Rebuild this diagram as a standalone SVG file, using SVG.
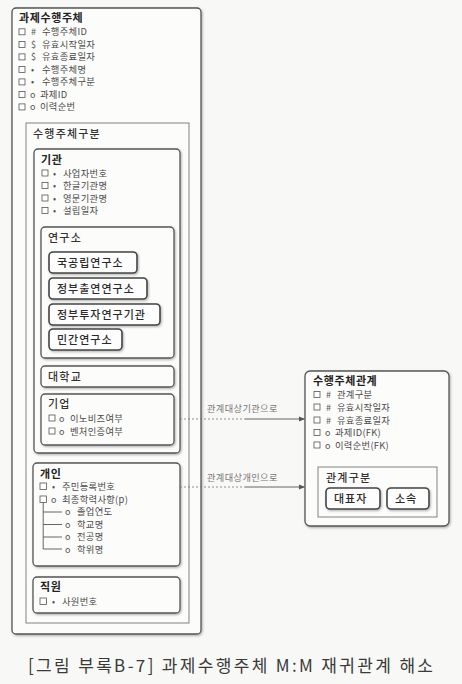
<svg xmlns="http://www.w3.org/2000/svg" width="462" height="684" viewBox="0 0 462 684">
<style>
text{font-family:"Noto Sans CJK KR","Noto Sans",sans-serif;fill:#3a3a3a}
.t{font-size:11px;font-weight:bold;fill:#222;letter-spacing:0.6px}
.t2{font-size:11px;font-weight:500;fill:#333;letter-spacing:1.2px}
.a{font-size:9.3px;fill:#4a4a4a;letter-spacing:0.3px}
.s{font-size:9px;fill:#555}
.lb{font-size:9.2px;fill:#777;letter-spacing:0.4px}
.btn{font-size:11px;font-weight:500;fill:#2a2a2a;letter-spacing:1px}
.box{fill:#fcfcfb;stroke:#555;stroke-width:1.3}
.tbox{fill:#fcfcfb;stroke:#777;stroke-width:0.9}
.pill{fill:#fdfdfd;stroke:#444;stroke-width:1.6}
.cb{fill:#fff;stroke:#555;stroke-width:0.8}
.ln{stroke:#555;stroke-width:0.9;fill:none}
.dash{stroke:#777;stroke-width:0.8;stroke-dasharray:2 2;fill:none}
</style>
<defs>
<filter id="sh" x="-10%" y="-10%" width="130%" height="130%">
<feDropShadow dx="1" dy="1.2" stdDeviation="0.9" flood-color="#000" flood-opacity="0.3"/>
</filter>
<marker id="ar" markerWidth="6" markerHeight="6" refX="5.5" refY="3" orient="auto" markerUnits="userSpaceOnUse">
<path d="M0,0.5 L6,3 L0,5.5 Z" fill="#555"/>
</marker>
</defs>
<rect x="0" y="0" width="462" height="684" fill="#f8f8f6"/>

<g id="entity-main">
<rect class="box" x="12" y="8" width="189" height="626" rx="4" filter="url(#sh)"/>
<text class="t" x="19" y="22">과제수행주체</text>
<rect class="cb" x="19" y="28.8" width="6" height="6"/><text class="s" x="31" y="35.3">#</text><text class="a" x="42" y="35.3">수행주체ID</text>
<rect class="cb" x="19" y="41.4" width="6" height="6"/><text class="s" x="31" y="47.9">$</text><text class="a" x="42" y="47.9">유효시작일자</text>
<rect class="cb" x="19" y="53.9" width="6" height="6"/><text class="s" x="31" y="60.4">$</text><text class="a" x="42" y="60.4">유효종료일자</text>
<rect class="cb" x="19" y="66.4" width="6" height="6"/><text class="s" x="31" y="72.9">•</text><text class="a" x="42" y="72.9">수행주체명</text>
<rect class="cb" x="19" y="78.9" width="6" height="6"/><text class="s" x="31" y="85.4">•</text><text class="a" x="42" y="85.4">수행주체구분</text>
<rect class="cb" x="19" y="91.4" width="6" height="6"/><text class="s" x="30" y="97.9">o</text><text class="a" x="40" y="97.9">과제ID</text>
<rect class="cb" x="19" y="103.9" width="6" height="6"/><text class="s" x="30" y="110.4">o</text><text class="a" x="40" y="110.4">이력순번</text>
</g>

<g id="subtype-group">
<rect class="tbox" x="26" y="123" width="163" height="500"/>
<text class="t2" x="33" y="138">수행주체구분</text>
</g>

<g id="gigwan">
<rect class="box" x="34" y="149" width="146" height="304" rx="4" filter="url(#sh)"/>
<text class="t" x="41" y="164">기관</text>
<rect class="cb" x="42" y="170" width="6" height="6"/><text class="s" x="53" y="176.5">•</text><text class="a" x="63" y="176.5">사업자번호</text>
<rect class="cb" x="42" y="182.5" width="6" height="6"/><text class="s" x="53" y="189">•</text><text class="a" x="63" y="189">한글기관명</text>
<rect class="cb" x="42" y="195" width="6" height="6"/><text class="s" x="53" y="201.5">•</text><text class="a" x="63" y="201.5">영문기관명</text>
<rect class="cb" x="42" y="207.5" width="6" height="6"/><text class="s" x="53" y="214">•</text><text class="a" x="63" y="214">설립일자</text>
</g>

<g id="yeonguso">
<rect class="box" x="41" y="227" width="133" height="131" rx="4" filter="url(#sh)"/>
<text class="t2" x="48" y="242">연구소</text>
</g>
<g id="gukgongrip">
<rect class="pill" x="49" y="252" width="88" height="21" rx="4" filter="url(#sh)"/>
<text class="btn" x="57" y="266.5">국공립연구소</text>
</g>
<g id="jeongbuchulyeon">
<rect class="pill" x="49" y="278" width="98" height="21" rx="4" filter="url(#sh)"/>
<text class="btn" x="57" y="292.5">정부출연연구소</text>
</g>
<g id="jeongbutuja">
<rect class="pill" x="49" y="304" width="111" height="21" rx="4" filter="url(#sh)"/>
<text class="btn" x="57" y="318.5">정부투자연구기관</text>
</g>
<g id="mingan">
<rect class="pill" x="49" y="329" width="73" height="21" rx="4" filter="url(#sh)"/>
<text class="btn" x="57" y="343.5">민간연구소</text>
</g>

<g id="daehakgyo">
<rect class="box" x="41" y="366" width="133" height="21" rx="4" filter="url(#sh)"/>
<text class="t2" x="48" y="381">대학교</text>
</g>

<g id="gieop">
<rect class="box" x="41" y="394" width="133" height="51" rx="4" filter="url(#sh)"/>
<text class="t2" x="48" y="408">기업</text>
<rect class="cb" x="49" y="415" width="6" height="6"/><text class="s" x="59" y="421.5">o</text><text class="a" x="70" y="421.5">이노비즈여부</text>
<rect class="cb" x="49" y="428" width="6" height="6"/><text class="s" x="59" y="434.5">o</text><text class="a" x="70" y="434.5">벤처인증여부</text>
</g>

<g id="gaein">
<rect class="box" x="33" y="463" width="147" height="103" rx="4" filter="url(#sh)"/>
<text class="t" x="40" y="478">개인</text>
<rect class="cb" x="40" y="483" width="6.5" height="6.5"/><text class="s" x="52" y="489.5">•</text><text class="a" x="62" y="489.5">주민등록번호</text>
<rect class="cb" x="40" y="496" width="6.5" height="6.5"/><text class="s" x="51" y="502.5">o</text><text class="a" x="62" y="502.5">최종학력사항(p)</text>
<path class="ln" d="M43.2,502.5 V549 M43.2,512 H62 M43.2,524.5 H62 M43.2,537 H62 M43.2,549 H62"/>
<text class="s" x="65" y="515">o</text><text class="a" x="77" y="515">졸업연도</text>
<text class="s" x="65" y="527.5">o</text><text class="a" x="77" y="527.5">학교명</text>
<text class="s" x="65" y="540">o</text><text class="a" x="77" y="540">전공명</text>
<text class="s" x="65" y="552.5">o</text><text class="a" x="77" y="552.5">학위명</text>
</g>

<g id="jigwon">
<rect class="box" x="33" y="577" width="147" height="36" rx="4" filter="url(#sh)"/>
<text class="t" x="40" y="591">직원</text>
<rect class="cb" x="40" y="598" width="6.5" height="6.5"/><text class="s" x="52" y="604.5">•</text><text class="a" x="62" y="604.5">사원번호</text>
</g>

<g id="relation-entity">
<rect class="box" x="305" y="371" width="144" height="155" rx="5" filter="url(#sh)"/>
<text class="t" x="313" y="385">수행주체관계</text>
<rect class="cb" x="314" y="391.5" width="6" height="6"/><text class="s" x="326" y="398">#</text><text class="a" x="337" y="398">관계구분</text>
<rect class="cb" x="314" y="404" width="6" height="6"/><text class="s" x="326" y="410.5">#</text><text class="a" x="337" y="410.5">유효시작일자</text>
<rect class="cb" x="314" y="417" width="6" height="6"/><text class="s" x="326" y="423.5">#</text><text class="a" x="337" y="423.5">유효종료일자</text>
<rect class="cb" x="314" y="429.5" width="6" height="6"/><text class="s" x="325" y="436">o</text><text class="a" x="335" y="436">과제ID(FK)</text>
<rect class="cb" x="314" y="442" width="6" height="6"/><text class="s" x="325" y="448.5">o</text><text class="a" x="335" y="448.5">이력순번(FK)</text>
</g>

<g id="relation-type">
<rect class="tbox" x="318" y="467" width="119" height="50"/>
<text class="t2" x="326" y="482">관계구분</text>
</g>
<g id="daepyoja">
<rect class="pill" x="326" y="488" width="54" height="21" rx="4" filter="url(#sh)"/>
<text class="btn" x="334" y="502.5">대표자</text>
</g>
<g id="sosok">
<rect class="pill" x="387" y="488" width="42" height="21" rx="4" filter="url(#sh)"/>
<text class="btn" x="395" y="502.5">소속</text>
</g>

<g id="connectors">
<path class="dash" d="M180,419 H245"/>
<path class="ln" d="M245,419 H304.5" marker-end="url(#ar)"/>
<text class="lb" x="207" y="412">관계대상기관으로</text>
<path class="dash" d="M180,487 H245"/>
<path class="ln" d="M245,487 H304.5" marker-end="url(#ar)"/>
<text class="lb" x="207" y="481">관계대상개인으로</text>
</g>

<text x="28" y="672" font-size="17" fill="#333" textLength="405" lengthAdjust="spacing">[그림 부록B-7] 과제수행주체 M:M 재귀관계 해소</text>
</svg>
